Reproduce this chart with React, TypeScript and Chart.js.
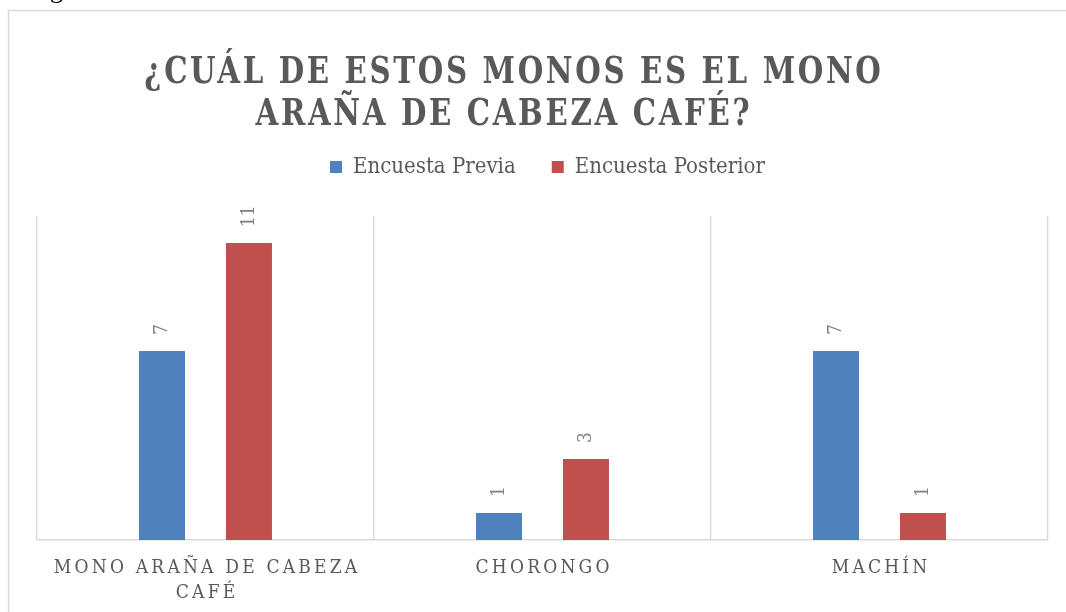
import React, { useEffect, useRef } from "react";
import { Chart, registerables } from "chart.js";

Chart.register(...registerables);

// ---- data ----
const categories: string[][] = [["MONO ARAÑA DE CABEZA", "CAFÉ"], ["CHORONGO"], ["MACHÍN"]];
const seriesNames = ["Encuesta Previa", "Encuesta Posterior"];
const previa = [7, 1, 7];
const posterior = [11, 3, 1];
const titleLines = ["¿CUÁL DE ESTOS MONOS ES EL MONO", "ARAÑA DE CABEZA CAFÉ?"];
const yMax = 12;

// ---- style ----
const SERIF = "'DejaVu Serif Condensed', 'DejaVu Serif', serif";
const GREY = "#595959";
const BLUE = "#4F81BD";
const RED = "#C0504D";
const GRID = "#d9d9d9";
const LEGEND_EXTRA = 28;
const LEGEND_SHIFT = 5;

const decor = {
  id: "decor",
  beforeInit(chart: any) {
    const legend = chart.legend;
    const fit = legend.fit;
    legend.fit = function () {
      fit.call(this);
      this.height += LEGEND_EXTRA;
    };
    const draw = legend.draw;
    legend.draw = function () {
      const ctx = chart.ctx;
      ctx.save();
      ctx.translate(LEGEND_SHIFT, 0);
      draw.call(this);
      ctx.restore();
    };
  },
  beforeDraw(chart: any) {
    const ctx: CanvasRenderingContext2D = chart.ctx;
    ctx.save();
    // outer frame
    ctx.strokeStyle = GRID;
    ctx.lineWidth = 1.5;
    ctx.beginPath();
    ctx.moveTo(8.5, 700);
    ctx.lineTo(8.5, 10.5);
    ctx.lineTo(1100, 10.5);
    ctx.stroke();
    // fragment of caption text above the chart
    ctx.fillStyle = "#000";
    ctx.font = "26px 'Liberation Serif', serif";
    ctx.textBaseline = "alphabetic";
    ctx.textAlign = "left";
    ctx.fillText("g", 50, -2);
    // title
    ctx.fillStyle = GREY;
    ctx.font = `bold 37px ${SERIF}`;
    (ctx as any).letterSpacing = "3px";
    ctx.textAlign = "center";
    const centers = [512.5, 502.5];
    titleLines.forEach((line, i) => {
      ctx.save();
      ctx.translate(centers[i] + 1.4, 83 + i * 42);
      ctx.scale(0.88, 1);
      ctx.fillText(line, 0, 0);
      ctx.restore();
    });
    ctx.restore();
  },
  afterDatasetsDraw(chart: any) {
    const ctx: CanvasRenderingContext2D = chart.ctx;
    chart.data.datasets.forEach((ds: any, di: number) => {
      const meta = chart.getDatasetMeta(di);
      meta.data.forEach((el: any, i: number) => {
        ctx.save();
        ctx.translate(el.x, el.y - 16);
        ctx.rotate(-Math.PI / 2);
        ctx.font = `19px ${SERIF}`;
        ctx.fillStyle = "#7f7f7f";
        ctx.textAlign = "left";
        ctx.textBaseline = "middle";
        ctx.fillText(String(ds.data[i]), 0, 0);
        ctx.restore();
      });
    });
  },
  afterDraw(chart: any) {
    const ctx: CanvasRenderingContext2D = chart.ctx;
    const xs = chart.scales.x;
    ctx.save();
    ctx.font = `19px ${SERIF}`;
    (ctx as any).letterSpacing = "3.2px";
    ctx.fillStyle = GREY;
    ctx.textAlign = "center";
    ctx.textBaseline = "alphabetic";
    categories.forEach((lines, i) => {
      const x = xs.getPixelForValue(i);
      lines.forEach((l, j) => ctx.fillText(l, x + 1.6, 573 + j * 25));
    });
    ctx.restore();
  },
};

export default function App() {
  const ref = useRef<HTMLCanvasElement | null>(null);
  useEffect(() => {
    if (!ref.current) return;
    const chart = new Chart(ref.current, {
      type: "bar",
      data: {
        labels: categories.map((c) => c.join(" ")),
        datasets: [
          { label: seriesNames[0], data: previa, backgroundColor: BLUE, borderWidth: 0 },
          { label: seriesNames[1], data: posterior, backgroundColor: RED, borderWidth: 0 },
        ],
      },
      options: {
        responsive: false,
        animation: false,
        layout: { padding: { top: 120, left: 37, right: 18, bottom: 72 } },
        datasets: { bar: { categoryPercentage: 0.516, barPercentage: 0.529 } },
        scales: {
          x: {
            grid: { display: true, offset: true, color: GRID, lineWidth: 1.3, drawTicks: false },
            border: { display: true, color: GRID, width: 1.5 },
            ticks: { display: false },
          },
          y: { display: false, min: 0, max: yMax },
        },
        plugins: {
          title: { display: false },
          tooltip: { enabled: false },
          legend: {
            display: true,
            position: "top",
            labels: {
              boxWidth: 12,
              boxHeight: 12,
              padding: 36,
              color: GREY,
              font: { family: SERIF, size: 22 },
            },
          },
        },
      },
      plugins: [decor],
    });
    return () => chart.destroy();
  }, []);
  return (
    <canvas
      ref={ref}
      width={1066}
      height={612}
      style={{ position: "absolute", left: 0, top: 0, display: "block" }}
    />
  );
}
